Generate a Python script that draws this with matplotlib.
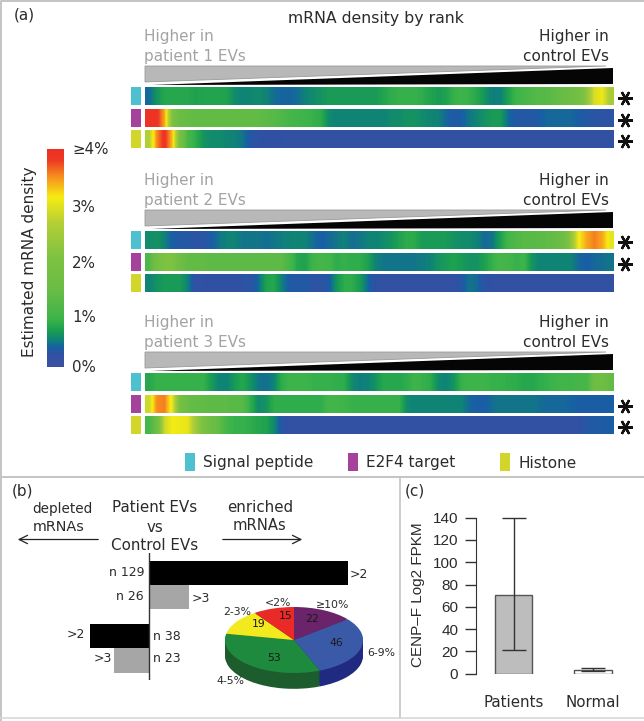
"""Multi-panel figure: mRNA density heat strips, enriched/depleted bars with pie, CENP-F bars."""

import numpy as np
import matplotlib
matplotlib.use("Agg")
import matplotlib.pyplot as plt
from matplotlib.colors import LinearSegmentedColormap

W, H = 644, 721

# ---- panel (a): density along rank, one row per strip ----
sp_p1 = [0.4, 0.6, 0.75, 0.75, 0.75, 0.75, 0.7, 0.72, 0.72, 0.72, 0.7, 0.55, 0.5, 0.52, 0.55, 0.5, 0.42, 0.38, 0.38, 0.42,
         0.5, 0.55, 0.6, 0.65, 0.65, 0.65, 0.65, 0.65, 0.65, 0.65, 0.72, 0.8, 0.85, 0.85, 0.85, 0.8, 0.72, 0.65, 0.7, 0.85,
         0.9, 0.85, 0.75, 0.6, 0.48, 0.5, 0.7, 0.9, 1.0, 1.1, 1.15, 1.2, 1.3, 1.4, 1.5, 1.7, 2.2, 2.9, 3.05, 2.5]
e2f4_p1 = [3.9, 3.9, 3.4, 2.0, 1.4, 1.35, 1.3, 1.3, 1.3, 1.3, 1.3, 1.3, 1.3, 1.3, 1.3, 1.25, 1.2, 1.1, 1.0, 0.95,
           0.9, 0.85, 0.8, 0.55, 0.5, 0.5, 0.5, 0.5, 0.5, 0.5, 0.5, 0.55, 0.55, 0.6, 0.6, 0.55, 0.52, 0.5, 0.4, 0.32,
           0.35, 0.45, 0.52, 0.6, 0.65, 0.65, 0.4, 0.32, 0.3, 0.3, 0.35, 0.4, 0.4, 0.4, 0.4, 0.35, 0.3, 0.28, 0.25, 0.25]
hist_p1 = [2.6, 3.5, 3.9, 3.3, 1.8, 1.0, 0.8, 0.6, 0.55, 0.55, 0.52, 0.5, 0.45, 0.3, 0.25, 0.22, 0.22, 0.22, 0.2, 0.2,
           0.2, 0.2, 0.2, 0.2, 0.2, 0.2, 0.2, 0.2, 0.2, 0.2, 0.2, 0.2, 0.2, 0.2, 0.2, 0.2, 0.2, 0.2, 0.2, 0.2,
           0.2, 0.2, 0.2, 0.2, 0.2, 0.2, 0.2, 0.2, 0.2, 0.2, 0.2, 0.2, 0.2, 0.2, 0.2, 0.2, 0.2, 0.2, 0.2, 0.2]
sp_p2 = [0.55, 0.6, 0.5, 0.35, 0.3, 0.3, 0.27, 0.27, 0.35, 0.45, 0.5, 0.5, 0.45, 0.45, 0.45, 0.42, 0.45, 0.48, 0.5, 0.5,
         0.5, 0.42, 0.35, 0.4, 0.45, 0.5, 0.42, 0.45, 0.5, 0.5, 0.55, 0.6, 0.7, 0.8, 0.78, 0.65, 0.65, 0.65, 0.65, 0.6,
         0.55, 0.55, 0.5, 0.4, 0.45, 0.7, 0.95, 1.1, 1.2, 1.2, 1.25, 1.3, 1.35, 1.5, 2.2, 3.1, 3.4, 3.55, 3.4, 3.0]
e2f4_p2 = [1.1, 1.7, 2.0, 2.0, 1.5, 1.3, 1.3, 1.3, 1.25, 1.25, 1.25, 1.25, 1.25, 1.25, 1.25, 1.25, 1.25, 1.25, 1.0, 0.75,
           0.7, 0.9, 1.0, 0.95, 0.8, 0.85, 0.8, 0.8, 0.7, 0.5, 0.45, 0.45, 0.45, 0.45, 0.45, 0.47, 0.5, 0.6, 0.65, 0.7,
           0.65, 0.6, 0.6, 0.7, 0.85, 1.0, 0.95, 0.85, 0.9, 0.6, 0.5, 0.5, 0.5, 0.5, 0.5, 0.4, 0.35, 0.4, 0.42, 0.45]
hist_p2 = [0.5, 0.6, 0.65, 0.65, 0.65, 0.5, 0.2, 0.22, 0.22, 0.22, 0.22, 0.22, 0.25, 0.25, 0.4, 0.7, 0.75, 0.5, 0.32, 0.3,
           0.32, 0.25, 0.25, 0.32, 0.6, 0.8, 0.8, 0.65, 0.4, 0.22, 0.2, 0.2, 0.2, 0.2, 0.2, 0.2, 0.2, 0.2, 0.2, 0.2,
           0.3, 0.45, 0.4, 0.25, 0.22, 0.2, 0.2, 0.2, 0.2, 0.2, 0.2, 0.2, 0.2, 0.2, 0.2, 0.2, 0.2, 0.2, 0.2, 0.2]
sp_p3 = [0.75, 0.85, 0.85, 0.85, 0.85, 0.85, 0.85, 0.85, 0.65, 0.5, 0.5, 0.65, 0.75, 0.6, 0.45, 0.42, 0.5, 0.8, 0.9, 0.9,
         0.9, 0.85, 0.85, 0.85, 0.82, 0.8, 0.55, 0.48, 0.5, 0.6, 0.75, 0.75, 0.75, 0.8, 0.9, 0.85, 0.8, 0.55, 0.5, 0.6,
         0.85, 0.9, 0.9, 0.9, 0.85, 0.85, 0.82, 0.8, 0.75, 0.75, 0.8, 0.85, 0.9, 0.95, 0.95, 1.0, 1.0, 1.5, 1.6, 1.3]
e2f4_p3 = [2.8, 3.5, 3.55, 3.0, 1.8, 1.4, 1.3, 1.3, 1.25, 1.25, 1.25, 1.2, 1.2, 0.8, 0.55, 0.6, 0.8, 0.8, 0.8, 0.8,
           0.8, 0.8, 0.8, 0.95, 0.95, 0.9, 0.85, 0.85, 0.85, 0.85, 0.85, 0.85, 0.85, 0.55, 0.5, 0.5, 0.5, 0.5, 0.5, 0.5,
           0.5, 0.4, 0.35, 0.35, 0.42, 0.45, 0.45, 0.45, 0.45, 0.45, 0.42, 0.4, 0.4, 0.4, 0.38, 0.35, 0.35, 0.35, 0.35, 0.35]
hist_p3 = [1.0, 1.5, 2.8, 3.1, 3.05, 3.0, 2.4, 1.9, 1.5, 1.3, 0.95, 0.85, 0.85, 0.8, 0.75, 0.7, 0.55, 0.28, 0.2, 0.2,
           0.2, 0.2, 0.2, 0.2, 0.2, 0.2, 0.2, 0.2, 0.2, 0.2, 0.2, 0.2, 0.2, 0.2, 0.2, 0.2, 0.2, 0.2, 0.2, 0.2,
           0.2, 0.2, 0.2, 0.2, 0.2, 0.2, 0.2, 0.2, 0.2, 0.2, 0.2, 0.2, 0.2, 0.2, 0.2, 0.22, 0.3, 0.32, 0.32, 0.35]

patients_a = ["1", "2", "3"]
strip_groups = [[sp_p1, e2f4_p1, hist_p1], [sp_p2, e2f4_p2, hist_p2], [sp_p3, e2f4_p3, hist_p3]]
strip_stars = [[True, True, True], [True, True, False], [False, True, True]]
strip_names = ["Signal peptide", "E2F4 target", "Histone"]
strip_colors = ["#4dc1cf", "#a5429b", "#d2d52a"]
density_labels = ["0%", "1%", "2%", "3%", "≥4%"]

# ---- panel (b) ----
bar_counts = [129, 26, -38, -23]
bar_names = ["n 129", "n 26", "n 38", "n 23"]
bar_folds = [">2", ">3", ">2", ">3"]
pie_counts = [22, 46, 53, 19, 15]
pie_names = ["≥10%", "6-9%", "4-5%", "2-3%", "<2%"]

# ---- panel (c) ----
cenp_groups = ["Patients", "Normal"]
cenp_means = [71, 3]
cenp_low = [21, 2]
cenp_high = [140, 5]

GREY_TXT = "#a3a3a3"
DARK_TXT = "#2b2b2b"
FRAME = "#c4c4c4"

plt.rcParams["font.family"] = ["DejaVu Sans"]

density_cmap = LinearSegmentedColormap.from_list("density", [
    (0.00, "#3d50a3"), (0.06, "#2f52a4"), (0.09, "#1760a4"), (0.125, "#0f8476"),
    (0.17, "#1ca050"), (0.22, "#3cb44a"), (0.35, "#6abd45"), (0.50, "#7dc242"),
    (0.66, "#b4cf36"), (0.78, "#f7ec13"), (0.87, "#f7941e"), (0.95, "#ee3a24"),
    (1.00, "#ed2f24"),
])


def px_axes(fig, x0, y0, x1, y1, **kw):
    # axes from picture pixels, y counted from the top
    return fig.add_axes([x0 / W, 1 - y1 / H, (x1 - x0) / W, (y1 - y0) / H], **kw)


def draw_panel_a(fig, bg):
    cb = px_axes(fig, 46.5, 149, 63, 367)
    cb.imshow(np.linspace(4, 0, 256)[:, None], cmap=density_cmap, vmin=0, vmax=4,
              aspect="auto", extent=[0, 1, 0, 4])
    cb.axis("off")
    for lab, y in zip(density_labels, [368, 318, 264, 207, 149]):
        bg.text(72, y, lab, fontsize=10.8, color=DARK_TXT, va="center")
    bg.text(30, 262, "Estimated mRNA density", rotation=90, fontsize=11,
            color=DARK_TXT, ha="center", va="center")
    bg.text(14, 15, "(a)", fontsize=11, color=DARK_TXT, va="center")
    bg.text(375.5, 18, "mRNA density by rank", fontsize=11.3, color=DARK_TXT, ha="center", va="center")

    group_tops = [87, 231, 373]
    strip_steps = [0, 22, 43]
    head_tops = [66, 210, 352]
    text_tops = [37, 181, 323]
    for g, patient in enumerate(patients_a):
        ty = text_tops[g]
        bg.text(144, ty, "Higher in", fontsize=11, color=GREY_TXT, va="center")
        bg.text(144, ty + 19.5, f"patient {patient} EVs", fontsize=11, color=GREY_TXT, va="center")
        bg.text(609, ty, "Higher in", fontsize=11, color=DARK_TXT, ha="right", va="center")
        bg.text(609, ty + 19.5, "control EVs", fontsize=11, color=DARK_TXT, ha="right", va="center")

        h = head_tops[g]
        bg.fill([145, 606, 145], [h, h, h + 16], color="#b8b8b8", ec="#9a9a9a", lw=0.6)
        bg.fill([151, 613, 613], [h + 19, h + 2, h + 18], color="#050505", lw=0)

        for s, values in enumerate(strip_groups[g]):
            top = group_tops[g] + strip_steps[s]
            ax = px_axes(fig, 145, top, 613, top + 18)
            ax.imshow(np.array(values)[None, :], cmap=density_cmap, vmin=0, vmax=4,
                      aspect="auto", interpolation="bilinear")
            ax.axis("off")
            bg.fill([131, 141, 141, 131], [top, top, top + 18, top + 18], color=strip_colors[s], lw=0)
            if strip_stars[g][s]:
                bg.plot([625.5], [top + 10.5], marker=(6, 2, 90), ms=10.5, mew=1.7, color="#111111")

    for name, color, x in zip(strip_names, strip_colors, [185, 348, 500]):
        bg.fill([x, x + 10, x + 10, x], [453, 453, 471, 471], color=color, lw=0)
        bg.text(x + 18.5, 463, name, fontsize=11, color=DARK_TXT, va="center")


def draw_panel_b(fig, bg):
    bg.text(12, 491, "(b)", fontsize=11, color=DARK_TXT, va="center")
    for x, y, s, size in [(62, 509, "depleted", 9.8), (59, 527, "mRNAs", 10.4), (154.5, 508, "Patient EVs", 10.9),
                          (155, 528, "vs", 10.8), (155, 546, "Control EVs", 10.9), (260, 507, "enriched", 10.8),
                          (260, 526, "mRNAs", 10.6)]:
        bg.text(x, y, s, fontsize=size, color=DARK_TXT, ha="center", va="center")
    bg.annotate("", xy=(15, 539.5), xytext=(101, 539.5), arrowprops=dict(arrowstyle="->", lw=0.9, color="#222222", mutation_scale=15))
    bg.annotate("", xy=(305, 539.5), xytext=(220, 539.5), arrowprops=dict(arrowstyle="->", lw=0.9, color="#222222", mutation_scale=15))

    ax = px_axes(fig, 80, 553, 400, 680)
    ax.patch.set_alpha(0)
    rows = [0, 1, 2.6, 3.6]
    ax.barh(rows, bar_counts, height=1.0, color=["#000000", "#a6a6a6", "#000000", "#a6a6a6"], lw=0)
    ax.set_xlim((80 - 149) / 1.54, (400 - 149) / 1.54)
    ax.set_ylim(4.4, -0.82)
    ax.axvline(0, color="#333333", lw=1)
    ax.axis("off")

    for x, y, s, ha in [(145, 572, bar_names[0], "right"), (144, 597, bar_names[1], "right"),
                        (153, 636, bar_names[2], "left"), (153, 658, bar_names[3], "left"),
                        (350, 574, bar_folds[0], "left"), (192, 598, bar_folds[1], "left"),
                        (85, 634, bar_folds[2], "right"), (112, 658, bar_folds[3], "right")]:
        bg.text(x, y, s, fontsize=9, color=DARK_TXT, ha=ha, va="center")

    cy = 640
    pie_ax = px_axes(fig, 294 - 69 * 1.1, cy - 33 * 1.1, 294 + 69 * 1.1, cy + 33 * 1.7)
    pie_ax.patch.set_alpha(0)
    rim = ["#3b1540", "#1f2a80", "#1c5c2d", "#8d8a10", "#7d1512"]
    for d in np.arange(0.48, 0, -0.04):
        pie_ax.pie(pie_counts, colors=rim, startangle=90, counterclock=False, center=(0, -d))
    pie_ax.pie(pie_counts, colors=["#6b2469", "#3a5aa8", "#1e8a3e", "#f2ea1f", "#ea2a26"],
               startangle=90, counterclock=False)
    pie_ax.set_aspect("auto")
    pie_ax.set_xlim(-1.1, 1.1)
    pie_ax.set_ylim(-1.7, 1.1)

    for (x, y), n in zip([(312, 619), (336, 643), (274, 658), (259, 624), (286, 616)], pie_counts):
        bg.text(x, y, str(n), fontsize=7.8, color="#1a1a1a", ha="center", va="center")
    for (x, y), s in zip([(333, 605), (381, 653), (230, 681), (237, 612), (278, 603)], pie_names):
        bg.text(x, y, s, fontsize=7.8, color=DARK_TXT, ha="center", va="center")


def draw_panel_c(fig, bg):
    bg.text(405, 491, "(c)", fontsize=11, color=DARK_TXT, va="center")
    ax = px_axes(fig, 476, 517.7, 640, 673.7)
    ax.patch.set_alpha(0)
    x = np.arange(len(cenp_groups))
    ax.bar(x, cenp_means, width=37.5 / 79.5, color=["#bdbdbd", "#ffffff"], edgecolor="#555555", lw=1)
    err = [np.array(cenp_means) - np.array(cenp_low), np.array(cenp_high) - np.array(cenp_means)]
    ax.errorbar(x, cenp_means, yerr=err, fmt="none", ecolor="#333333", elinewidth=1, capsize=8.3, clip_on=False)
    ax.set_xlim(-0.472, 1.59)
    ax.set_ylim(0, 140)
    ax.set_yticks(range(0, 141, 20))
    ax.tick_params(axis="y", length=7.7, width=1, color="#333333", labelcolor=DARK_TXT, pad=5)
    for lab in ax.get_yticklabels():
        lab.set_family("Liberation Sans")
        lab.set_fontsize(11)
    ax.set_xticks(x, cenp_groups)
    ax.tick_params(axis="x", length=0, pad=15, labelsize=10.8, labelcolor=DARK_TXT)
    for side in ["top", "right", "bottom"]:
        ax.spines[side].set_visible(False)
    ax.spines["left"].set_color("#333333")
    bg.text(418, 595, "CENP–F Log2 FPKM", rotation=90, fontsize=11, family="Liberation Sans",
            color=DARK_TXT, ha="center", va="center")


def main():
    fig = plt.figure(figsize=(W / 100, H / 100), dpi=100, facecolor="white")
    bg = fig.add_axes([0, 0, 1, 1], zorder=5)
    bg.patch.set_alpha(0)
    bg.set_xlim(0, W)
    bg.set_ylim(H, 0)
    bg.axis("off")

    # panel frames
    bg.plot([1, 1, W], [H, 1, 1], color=FRAME, lw=1.4)
    bg.plot([0, W], [477, 477], color=FRAME, lw=1.4)
    bg.plot([400, 400], [477, 718], color=FRAME, lw=1.2)
    bg.plot([0, W], [718, 718], color="#d8d8d8", lw=1.2)

    draw_panel_a(fig, bg)
    draw_panel_b(fig, bg)
    draw_panel_c(fig, bg)
    fig.savefig("out.png", dpi=100)


if __name__ == "__main__":
    main()
